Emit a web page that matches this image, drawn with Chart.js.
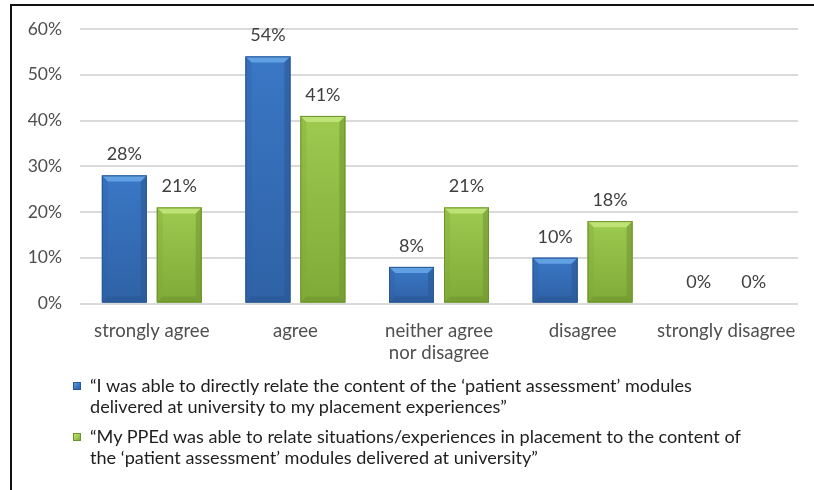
<!DOCTYPE html>
<html>
<head>
<meta charset="utf-8">
<script src="https://cdn.jsdelivr.net/npm/chart.js@4/dist/chart.umd.min.js"></script>
<style>
  html, body { margin: 0; padding: 0; background: #fff; }
  #wrap { position: relative; width: 814px; height: 490px; overflow: hidden; }
  #chart1 { position: absolute; left: 0; top: 0; }
  #frame-left { position: absolute; left: 10px; top: 4px; width: 2px; height: 486px; background: #111; }
  #frame-top { position: absolute; left: 10px; top: 4px; width: 804px; height: 2px; background: #111; }
  #legend { position: absolute; left: 0; top: 0; font-family: Lato, "Open Sans", sans-serif; color: #1e1e1e; }
  .item { position: absolute; left: 90px; font-size: 18.1px; line-height: 21px; white-space: nowrap; }
  .mark { position: absolute; left: -17px; top: 7px; width: 6px; height: 6px; border: 1px solid; }
</style>
</head>
<body>
<div id="wrap">
  <canvas id="chart1" width="814" height="490"></canvas>
  <div id="frame-left"></div>
  <div id="frame-top"></div>
  <div id="legend"></div>
</div>
<script>
var categories = ['strongly agree', 'agree', ['neither agree', 'nor disagree'], 'disagree', 'strongly disagree'];
var relateContent = [28, 54, 8, 10, 0];
var ppedRelate = [21, 41, 21, 18, 0];
var seriesNames = [
    ['\u201cI was able to directly relate the content of the \u2018patient assessment\u2019 modules',
     'delivered at university to my placement experiences\u201d'],
    ['\u201cMy PPEd was able to relate situations/experiences in placement to the content of',
     'the \u2018patient assessment\u2019 modules delivered at university\u201d']
];
var yTicks = [0, 10, 20, 30, 40, 50, 60];

// face, light top, dark side, border for each series
var palette = [
    { face: '#3a77c5', hi: '#62a0e4', side: '#2f62a6', low: '#2a5792', edge: '#2a5894' },
    { face: '#9dca4f', hi: '#bfe277', side: '#80aa38', low: '#6f9630', edge: '#6d922c' }
];

var FONT = 'Lato, "Open Sans", sans-serif';

// bevelled bar look + value labels on top
var bevelPlugin = {
    id: 'bevel',
    afterDatasetsDraw: function (chart) {
        var ctx = chart.ctx;
        chart.data.datasets.forEach(function (ds, di) {
            var meta = chart.getDatasetMeta(di);
            var pal = palette[di];
            meta.data.forEach(function (bar, i) {
                var w = bar.width, l = bar.x - w / 2, r = bar.x + w / 2;
                var t = bar.y, b = bar.base;
                var h = b - t;
                if (h > 1) {
                    var k = Math.min(6, h / 2);
                    ctx.save();
                    var g = ctx.createLinearGradient(0, t, 0, b);
                    g.addColorStop(0, pal.face);
                    g.addColorStop(1, pal.side);
                    ctx.fillStyle = g;
                    ctx.fillRect(l, t, w, h);
                    // top bevel
                    ctx.fillStyle = pal.hi;
                    ctx.beginPath();
                    ctx.moveTo(l, t); ctx.lineTo(r, t); ctx.lineTo(r - k, t + k); ctx.lineTo(l + k, t + k);
                    ctx.closePath(); ctx.fill();
                    // right bevel
                    ctx.fillStyle = pal.low;
                    ctx.globalAlpha = 0.55;
                    ctx.beginPath();
                    ctx.moveTo(r, t); ctx.lineTo(r, b); ctx.lineTo(r - k, b - k); ctx.lineTo(r - k, t + k);
                    ctx.closePath(); ctx.fill();
                    // left bevel
                    ctx.fillStyle = pal.side;
                    ctx.globalAlpha = 0.35;
                    ctx.beginPath();
                    ctx.moveTo(l, t); ctx.lineTo(l + k, t + k); ctx.lineTo(l + k, b - k); ctx.lineTo(l, b);
                    ctx.closePath(); ctx.fill();
                    // bottom bevel
                    ctx.fillStyle = pal.low;
                    ctx.globalAlpha = 0.6;
                    ctx.beginPath();
                    ctx.moveTo(l, b); ctx.lineTo(l + k, b - k); ctx.lineTo(r - k, b - k); ctx.lineTo(r, b);
                    ctx.closePath(); ctx.fill();
                    ctx.globalAlpha = 1;
                    ctx.strokeStyle = pal.edge;
                    ctx.lineWidth = 1;
                    ctx.strokeRect(l + 0.5, t + 0.5, w - 1, h - 1);
                    ctx.restore();
                }
                ctx.save();
                ctx.fillStyle = '#404040';
                ctx.font = '18px ' + FONT;
                ctx.textAlign = 'center';
                ctx.textBaseline = 'middle';
                ctx.fillText(ds.data[i] + '%', bar.x, t - 21);
                ctx.restore();
            });
        });
    }
};

var ctx = document.getElementById('chart1').getContext('2d');
var myChart1 = new Chart(ctx, {
    type: 'bar',
    data: {
        labels: categories,
        datasets: [{
            label: seriesNames[0].join(' '),
            data: relateContent,
            backgroundColor: palette[0].face,
            categoryPercentage: 0.765,
            barPercentage: 0.818
        }, {
            label: seriesNames[1].join(' '),
            data: ppedRelate,
            backgroundColor: palette[1].face,
            categoryPercentage: 0.765,
            barPercentage: 0.818
        }]
    },
    options: {
        responsive: false,
        animation: false,
        layout: { padding: { top: 29, right: 16, left: 0, bottom: 0 } },
        plugins: {
            legend: { display: false },
            tooltip: { enabled: false }
        },
        scales: {
            x: {
                grid: { display: false },
                border: { display: false },
                ticks: {
                    color: '#4f4f4f',
                    font: { family: FONT, size: 18.6, lineHeight: 1.19 },
                    padding: 8,
                    maxRotation: 0,
                    autoSkip: false
                },
                afterFit: function (scale) { scale.height = 186.5; }
            },
            y: {
                min: 0,
                max: 60,
                afterBuildTicks: function (scale) {
                    scale.ticks = yTicks.map(function (v) { return { value: v }; });
                },
                grid: { color: '#dadada', lineWidth: 2, drawTicks: false },
                border: { display: false },
                ticks: {
                    color: '#4f4f4f',
                    font: { family: FONT, size: 17.5 },
                    padding: 18,
                    callback: function (v) { return v + '%'; }
                },
                afterFit: function (scale) { scale.width = 80; }
            }
        }
    },
    plugins: [bevelPlugin]
});

// legend below the plot
var legendTops = [374.5, 426.2];
var legendBox = document.getElementById('legend');
seriesNames.forEach(function (lines, i) {
    var item = document.createElement('div');
    item.className = 'item';
    item.style.top = legendTops[i] + 'px';
    var mark = document.createElement('span');
    mark.className = 'mark';
    mark.style.background = 'linear-gradient(135deg, ' + palette[i].hi + ', ' + palette[i].face + ' 55%, ' + palette[i].side + ')';
    mark.style.borderColor = palette[i].edge;
    item.appendChild(mark);
    lines.forEach(function (ln, j) {
        if (j > 0) item.appendChild(document.createElement('br'));
        item.appendChild(document.createTextNode(ln));
    });
    legendBox.appendChild(item);
});
</script>
</body>
</html>
